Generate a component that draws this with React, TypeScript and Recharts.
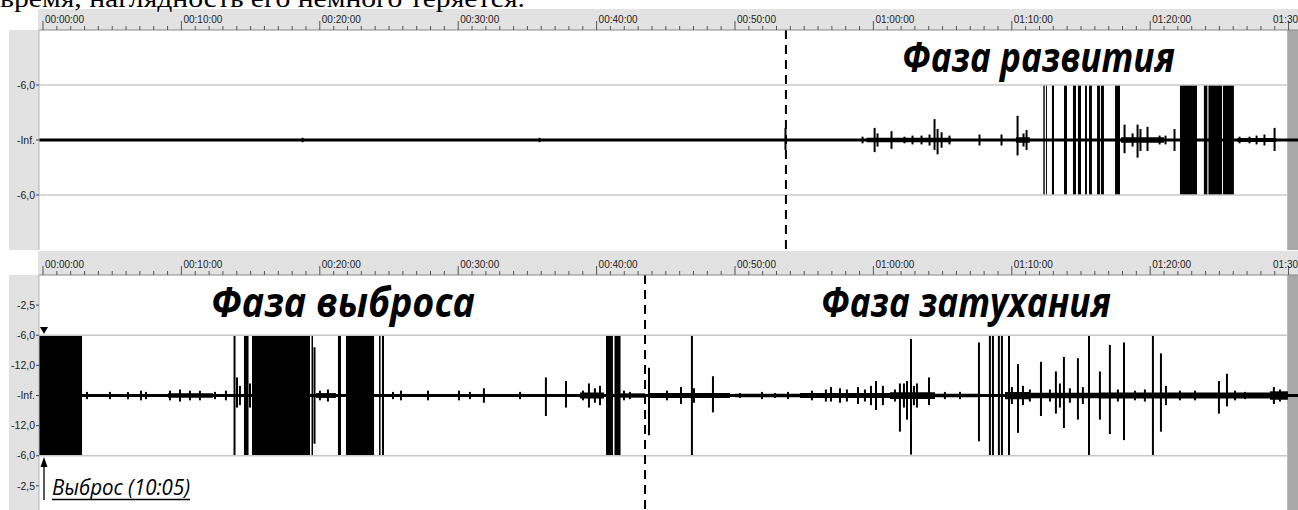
import React from 'react';
import { ComposedChart, XAxis, YAxis, Bar, ReferenceArea, ReferenceLine } from 'recharts';

// ---------- time axis (minutes) ----------
const T_MIN = -0.29;
const T_MAX = 90.68;
const SCROLL_START = 89.9;
const rulerMajor = [0, 10, 20, 30, 40, 50, 60, 70, 80, 90];
const rulerLabels = ['00:00:00', '00:10:00', '00:20:00', '00:30:00', '00:40:00', '00:50:00', '01:00:00', '01:10:00', '01:20:00', '01:30:00'];
const rulerTicks = Array.from({ length: 91 }, (_, i) => i);

// ---------- level axis (linear amplitude, 0.5 = -6 dB) ----------
const topYTicks = [0.5, 0, -0.5];
const topYLabels = ['-6,0', '-Inf.', '-6,0'];
const bottomYTicks = [0.75, 0.5, 0.25, 0, -0.25, -0.5, -0.75];
const bottomYLabels = ['-2,5', '-6,0', '-12,0', '-Inf.', '-12,0', '-6,0', '-2,5'];
const CLIP = 0.5;

// ---------- top panel: development phase ----------
// [time min, upper peak, lower peak]
const topSpikes: [number, number, number][] = [
  [18.79, 0.02, -0.02], [35.91, 0.02, -0.02], [53.68, 0.11, -0.09], [59.25, 0.03, -0.03],
  [60.12, 0.11, -0.11], [60.33, 0.06, -0.06], [61.34, 0.08, -0.08], [62.28, 0.03, -0.03],
  [62.86, 0.04, -0.04], [63.51, 0.04, -0.04], [64.09, 0.05, -0.05], [64.45, 0.19, -0.09],
  [64.67, 0.10, -0.13], [64.96, 0.07, -0.07], [65.53, 0.04, -0.04], [67.70, 0.05, -0.05],
  [69.29, 0.05, -0.05], [70.45, 0.22, -0.14], [70.88, 0.06, -0.06], [71.10, 0.09, -0.09],
  [78.18, 0.14, -0.12], [78.76, 0.06, -0.06], [79.12, 0.14, -0.16], [79.33, 0.10, -0.10],
  [79.84, 0.12, -0.10], [80.71, 0.04, -0.04], [81.14, 0.04, -0.04], [81.79, 0.10, -0.10],
  [86.49, 0.03, -0.03], [87.21, 0.03, -0.03], [87.72, 0.04, -0.04], [88.29, 0.05, -0.05],
  [89.02, 0.11, -0.10],
];
// [start, end] of saturated bursts (clipped at -6 dB)
const topBursts: [number, number][] = [
  [72.28, 72.38], [72.47, 72.54], [72.90, 73.05], [73.77, 73.99], [74.42, 74.64],
  [74.78, 75.00], [75.29, 75.43], [75.58, 75.79], [76.16, 76.37], [76.44, 76.66],
  [77.46, 77.82], [82.15, 83.38], [83.88, 84.13], [84.21, 85.19], [85.26, 86.05],
];
// [start, end, amplitude] of background noise
const topNoise: [number, number, number][] = [
  [59.5, 65.6, 0.02], [70.3, 71.3, 0.025], [77.9, 81.0, 0.025], [86.3, 89.1, 0.018],
];
const topPhaseBoundary = 53.68;

// ---------- bottom panel: outburst + decay phases ----------
const bottomSpikes: [number, number, number][] = [
  [3.18, 0.03, -0.03], [4.84, 0.03, -0.03], [6.14, 0.03, -0.03], [7.08, 0.04, -0.04],
  [7.44, 0.03, -0.03], [9.18, 0.04, -0.04], [9.90, 0.05, -0.05], [10.62, 0.04, -0.04],
  [11.34, 0.04, -0.04], [12.43, 0.03, -0.03], [13.22, 0.04, -0.04], [13.84, 0.5, -0.5],
  [14.02, 0.15, -0.10], [14.23, 0.08, -0.08], [14.96, 0.10, -0.10], [19.62, 0.4, -0.4],
  [20.01, 0.04, -0.04], [20.59, 0.05, -0.05], [25.29, 0.03, -0.03], [25.87, 0.04, -0.04],
  [27.82, 0.04, -0.04], [30.06, 0.04, -0.04], [30.85, 0.03, -0.03], [31.86, 0.06, -0.06],
  [34.47, 0.03, -0.03], [36.34, 0.15, -0.17], [37.79, 0.12, -0.10], [39.02, 0.04, -0.04],
  [39.45, 0.10, -0.10], [39.88, 0.06, -0.06], [40.25, 0.08, -0.08], [41.98, 0.04, -0.04],
  [42.41, 0.03, -0.03], [43.79, 0.23, -0.33], [45.09, 0.04, -0.04], [46.10, 0.07, -0.07],
  [46.89, 0.5, -0.5], [47.04, 0.06, -0.06], [48.41, 0.16, -0.14], [50.36, 0.02, -0.02],
  [51.95, 0.03, -0.03], [52.89, 0.02, -0.02], [53.83, 0.03, -0.03], [55.56, 0.04, -0.04],
  [56.57, 0.05, -0.05], [56.94, 0.07, -0.05], [57.59, 0.06, -0.06], [58.09, 0.05, -0.05],
  [58.89, 0.07, -0.07], [59.39, 0.05, -0.05], [59.83, 0.08, -0.08], [60.19, 0.12, -0.12],
  [60.69, 0.08, -0.08], [61.56, 0.05, -0.05], [61.92, 0.10, -0.30], [62.21, 0.10, -0.10],
  [62.43, 0.12, -0.20], [62.72, 0.47, -0.49], [62.93, 0.08, -0.08], [63.15, 0.10, -0.10],
  [64.02, 0.15, -0.08], [65.17, 0.03, -0.03], [66.26, 0.03, -0.03], [67.63, 0.44, -0.38],
  [68.42, 0.5, -0.5], [68.64, 0.5, -0.5], [69.07, 0.5, -0.5], [69.29, 0.5, -0.5],
  [69.80, 0.5, -0.5], [70.01, 0.07, -0.07], [70.45, 0.26, -0.31], [70.81, 0.08, -0.08],
  [71.31, 0.05, -0.05], [72.11, 0.28, -0.17], [72.76, 0.05, -0.05], [73.19, 0.20, -0.15],
  [73.48, 0.10, -0.10], [73.77, 0.32, -0.27], [74.20, 0.06, -0.06], [74.78, 0.31, -0.20],
  [75.14, 0.07, -0.07], [75.58, 0.5, -0.5], [76.37, 0.20, -0.20], [77.09, 0.42, -0.32],
  [77.67, 0.05, -0.05], [78.11, 0.44, -0.37], [78.90, 0.04, -0.04], [79.62, 0.05, -0.05],
  [80.20, 0.5, -0.5], [80.78, 0.35, -0.30], [81.14, 0.08, -0.08], [82.15, 0.04, -0.04],
  [83.24, 0.04, -0.04], [84.97, 0.12, -0.15], [85.55, 0.18, -0.09], [86.13, 0.04, -0.04],
  [86.85, 0.03, -0.03], [88.94, 0.07, -0.07], [89.38, 0.05, -0.05],
];
const bottomBursts: [number, number][] = [
  [-0.29, 2.82], [14.52, 14.85], [15.10, 19.29], [19.40, 19.51], [21.31, 21.53],
  [21.89, 23.92], [24.28, 24.39], [24.49, 24.64], [40.68, 41.18], [41.29, 41.73],
];
const bottomNoise: [number, number, number][] = [
  [9.03, 12.28, 0.018], [19.73, 21.17, 0.02], [38.80, 40.53, 0.025], [41.69, 43.50, 0.018],
  [43.86, 49.64, 0.02], [50.00, 54.70, 0.015], [54.70, 61.20, 0.02], [61.20, 64.45, 0.028],
  [64.45, 67.70, 0.015], [69.51, 71.31, 0.03], [71.31, 76.37, 0.022], [76.37, 88.65, 0.024],
  [88.65, 89.95, 0.035],
];
const bottomPhaseBoundary = 43.5;

// ---------- layout ----------
const W = 1298;
const H = 510;
const GRAY = '#e2e2e2';
const SCROLL_GRAY = '#a9a9a9';
const UI_FONT = "'Liberation Sans', 'DejaVu Sans', sans-serif";

const RulerTick = (props: any) => {
  const { x, payload, axisBottom } = props;
  const v = payload.value;
  const mi = rulerMajor.indexOf(v);
  if (mi < 0) {
    return <line x1={x} x2={x} y1={axisBottom - 4} y2={axisBottom} stroke="#555" strokeWidth={1} />;
  }
  const lx = Math.min(x + 2, W - 25);
  return (
    <g>
      <line x1={x} x2={x} y1={axisBottom - 9} y2={axisBottom} stroke="#555" strokeWidth={1} />
      <text x={lx} y={axisBottom - 7} fontSize={10.5} fontFamily={UI_FONT} fill="#222"
        textLength={39} lengthAdjust="spacingAndGlyphs">{rulerLabels[mi]}</text>
    </g>
  );
};

type PanelProps = {
  height: number;
  marginTop: number;
  rulerH: number;
  yDomain: [number, number];
  yTicks: number[];
  yLabels: string[];
  spikes: [number, number, number][];
  bursts: [number, number][];
  noise: [number, number, number][];
  boundary: number;
};

function Panel(p: PanelProps) {
  const data = p.spikes.map(([t, hi, lo]) => ({ t, r: [lo, hi] }));
  const axisBottom = p.marginTop + p.rulerH;
  return (
    <ComposedChart width={W} height={p.height} data={data}
      margin={{ top: p.marginTop, right: 0, bottom: 0, left: 0 }}>
      <XAxis dataKey="t" type="number" orientation="top" domain={[T_MIN, T_MAX]} allowDataOverflow
        height={p.rulerH} ticks={rulerTicks} interval={0} tickLine={false}
        axisLine={{ stroke: '#8a8a8a' }}
        tick={(tp: any) => <RulerTick {...tp} axisBottom={axisBottom} />} />
      <YAxis type="number" domain={p.yDomain} allowDataOverflow width={39} ticks={p.yTicks} interval={0}
        tickFormatter={(v: number) => p.yLabels[p.yTicks.indexOf(v)]}
        tick={{ fontSize: 10.5, fontFamily: UI_FONT, fill: '#222' }}
        tickSize={3} tickMargin={1} tickLine={{ stroke: '#444' }} axisLine={{ stroke: '#b5b5b5' }} />
      <ReferenceArea x1={SCROLL_START} x2={T_MAX} y1={p.yDomain[0]} y2={p.yDomain[1]}
        fill={SCROLL_GRAY} fillOpacity={1} stroke="none" ifOverflow="hidden" />
      <ReferenceLine segment={[{ x: T_MIN, y: CLIP }, { x: SCROLL_START, y: CLIP }]} stroke="#c8c8c8" strokeWidth={1.5} />
      <ReferenceLine segment={[{ x: T_MIN, y: -CLIP }, { x: SCROLL_START, y: -CLIP }]} stroke="#c8c8c8" strokeWidth={1.5} />
      {p.noise.map(([a, b, amp], i) => (
        <ReferenceArea key={'n' + i} x1={a} x2={b} y1={-amp} y2={amp} fill="#000" fillOpacity={1} stroke="none" ifOverflow="hidden" />
      ))}
      {p.bursts.map(([a, b], i) => (
        <ReferenceArea key={'b' + i} x1={a} x2={b} y1={-CLIP} y2={CLIP} fill="#000" fillOpacity={1} stroke="none" ifOverflow="hidden" />
      ))}
      <ReferenceLine y={0} stroke="#000" strokeWidth={3} />
      <ReferenceLine x={p.boundary} stroke="#000" strokeWidth={2} strokeDasharray="9 6" />
      <Bar dataKey="r" fill="#000" barSize={2} isAnimationActive={false} />
    </ComposedChart>
  );
}

const TITLE_FONT = "'Open Sans', 'Noto Sans', 'DejaVu Sans', sans-serif";

export default function App() {
  return (
    <div style={{ position: 'absolute', left: 0, top: 0, width: W, height: H, overflow: 'hidden', background: '#fff' }}>
      {/* editor chrome */}
      <div style={{ position: 'absolute', left: 38, top: 9, width: W - 38, height: 21, background: GRAY }} />
      <div style={{ position: 'absolute', left: 9, top: 30, width: 30, height: 220, background: GRAY }} />
      <div style={{ position: 'absolute', left: 38, top: 251, width: W - 38, height: 24, background: GRAY }} />
      <div style={{ position: 'absolute', left: 9, top: 275, width: 30, height: 235, background: GRAY }} />

      <div style={{ position: 'absolute', left: 0, top: 0 }}>
        <Panel height={250} marginTop={9} rulerH={21} yDomain={[-1, 1]} yTicks={topYTicks} yLabels={topYLabels}
          spikes={topSpikes} bursts={topBursts} noise={topNoise} boundary={topPhaseBoundary} />
      </div>
      <div style={{ position: 'absolute', left: 0, top: 251 }}>
        <Panel height={259} marginTop={0} rulerH={24} yDomain={[-0.95, 1]} yTicks={bottomYTicks} yLabels={bottomYLabels}
          spikes={bottomSpikes} bursts={bottomBursts} noise={bottomNoise} boundary={bottomPhaseBoundary} />
      </div>

      <svg width={W} height={H} style={{ position: 'absolute', left: 0, top: 0, pointerEvents: 'none' }}>
        <text x={0} y={7} fontFamily="'Liberation Serif', 'DejaVu Serif', serif" fontSize={26} fill="#000"
          textLength={525} lengthAdjust="spacingAndGlyphs">время, наглядность его немного теряется.</text>

        <text x={902} y={72} fontFamily={TITLE_FONT} fontSize={42} fontWeight={700} fontStyle="italic" fill="#000"
          textLength={273} lengthAdjust="spacingAndGlyphs">Фаза развития</text>
        <text x={211} y={317} fontFamily={TITLE_FONT} fontSize={42} fontWeight={700} fontStyle="italic" fill="#000"
          textLength={264} lengthAdjust="spacingAndGlyphs">Фаза выброса</text>
        <text x={821} y={317} fontFamily={TITLE_FONT} fontSize={42} fontWeight={700} fontStyle="italic" fill="#000"
          textLength={290} lengthAdjust="spacingAndGlyphs">Фаза затухания</text>

        <polygon points="40,327 48,327 44,334" fill="#000" />
        <polygon points="40.5,467 44,457 47.5,467" fill="#000" />
        <line x1={44} x2={44} y1={462} y2={500} stroke="#000" strokeWidth={1.3} />
        <text x={52} y={495} fontFamily={TITLE_FONT} fontSize={22} fontStyle="italic" fill="#000"
          textLength={138} lengthAdjust="spacingAndGlyphs">Выброс (10:05)</text>
        <line x1={52} x2={190} y1={499.5} y2={499.5} stroke="#000" strokeWidth={1.5} />
      </svg>
    </div>
  );
}
